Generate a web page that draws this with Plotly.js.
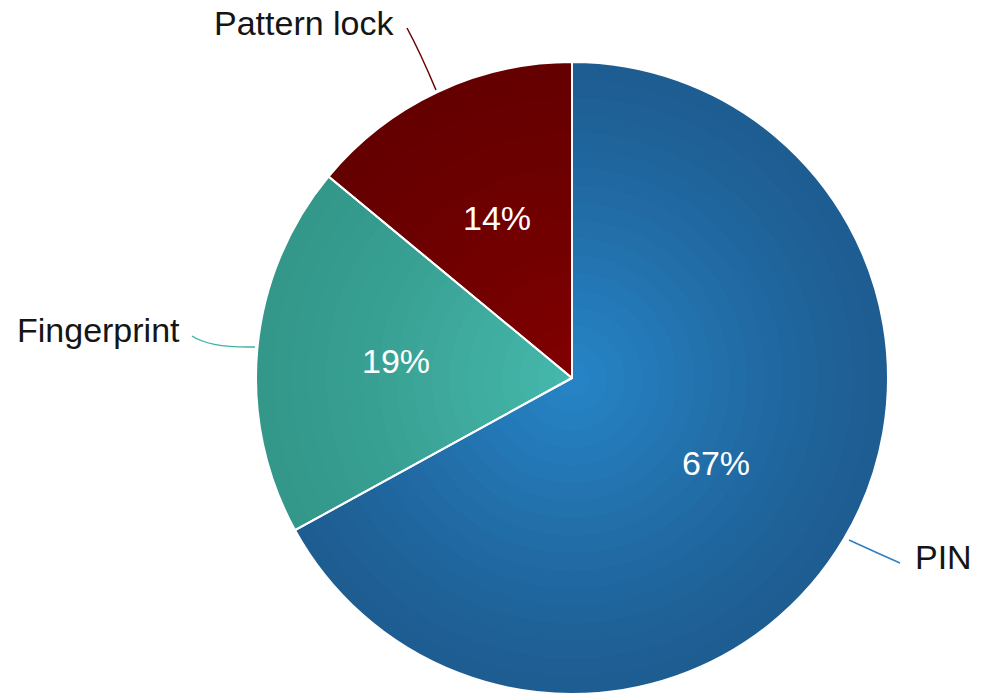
<!DOCTYPE html>
<html>
<head>
<meta charset="utf-8">
<script src="https://cdn.plot.ly/plotly-3.0.1.min.js"></script>
<style>html,body{margin:0;padding:0;background:#fff;}#chart{width:985px;height:694px;}</style>
</head>
<body>
<div id="chart"></div>
<script>
const categories = ["PIN", "Fingerprint", "Pattern lock"];
const values = [67, 19, 14];
const edgeColors = ["#1e5d92", "#33978a", "#650000"];
const centerColors = ["#2684c6", "#45b8ab", "#800000"];

const W = 985, H = 694;
const cx = 572, cy = 378, R = 316;

function hex2rgb(h){return [parseInt(h.slice(1,3),16),parseInt(h.slice(3,5),16),parseInt(h.slice(5,7),16)];}
function mix(a,b,t){const A=hex2rgb(a),B=hex2rgb(b);return 'rgb('+A.map((v,i)=>Math.round(v+(B[i]-v)*t)).join(',')+')';}
function domainFor(r){
  return {x:[(cx-r)/W,(cx+r)/W], y:[1-(cy+r)/H,1-(cy-r)/H]};
}

const traces = [];
const N = 18;
for(let i=0;i<N;i++){
  const f = 1 - i/N;
  const t = Math.pow(i/(N-1), 1.2);
  traces.push({
    type:'pie', labels:categories, values:values, sort:false, direction:'clockwise', rotation:0,
    marker:{colors:edgeColors.map((c,k)=>mix(c,centerColors[k],t)), line:{width:0}},
    textinfo:'none', hoverinfo:'skip', showlegend:false,
    domain:domainFor(R*f)
  });
}
traces.push({
  type:'pie', labels:categories, values:values, sort:false, direction:'clockwise', rotation:0,
  marker:{colors:['rgba(0,0,0,0)','rgba(0,0,0,0)','rgba(0,0,0,0)'], line:{color:'#ffffff', width:2}},
  textinfo:'none', showlegend:false, domain:domainFor(R)
});

function px(x){return x/W;} function py(y){return 1-y/H;}
function path(pts){
  return 'M'+px(pts[0][0])+','+py(pts[0][1])+' Q'+px(pts[1][0])+','+py(pts[1][1])+' '+px(pts[2][0])+','+py(pts[2][1]);
}
const leaderColors = ["#2f7fc0", "#3fb3a8", "#6b0000"];
const shapes = [
  {type:'path', xref:'paper', yref:'paper', path:path([[849,540],[875,552],[900,563]]), line:{color:leaderColors[0], width:1.5}},
  {type:'path', xref:'paper', yref:'paper', path:path([[192,336],[210,348],[255,347]]), line:{color:leaderColors[1], width:1.5}},
  {type:'path', xref:'paper', yref:'paper', path:path([[407,28],[420,52],[436,90]]), line:{color:leaderColors[2], width:1.5}}
];
const labelFont = {family:'Liberation Sans, Arial, sans-serif', size:34, color:'#151515'};
const annotations = [
  {text:categories[0], xref:'paper', yref:'paper', x:px(913), y:py(557), xanchor:'left', yanchor:'middle', showarrow:false, font:labelFont},
  {text:categories[1], xref:'paper', yref:'paper', x:px(182), y:py(330), xanchor:'right', yanchor:'middle', showarrow:false, font:labelFont},
  {text:categories[2], xref:'paper', yref:'paper', x:px(397), y:py(23), xanchor:'right', yanchor:'middle', showarrow:false, font:labelFont}
];
// percentage labels at each slice's mid-angle, derived from the values
const total = values.reduce((a,b)=>a+b,0);
let cum = 0;
values.forEach((v,i)=>{
  const mid = (cum + v/2)/total*2*Math.PI; cum += v;
  const rr = (i===0 ? 0.53 : 0.56)*R;
  annotations.push({
    text: Math.round(v/total*100)+'%', xref:'paper', yref:'paper',
    x: px(cx + rr*Math.sin(mid)), y: py(cy - rr*Math.cos(mid)),
    xanchor:'center', yanchor:'middle', showarrow:false,
    font:{family:'Liberation Sans, Arial, sans-serif', size:34, color:'#ffffff'}
  });
});

Plotly.newPlot('chart', traces, {
  width:W, height:H, margin:{l:0,r:0,t:0,b:0},
  paper_bgcolor:'#ffffff', showlegend:false, shapes:shapes, annotations:annotations
}, {displayModeBar:false, staticPlot:true});
</script>
</body>
</html>
